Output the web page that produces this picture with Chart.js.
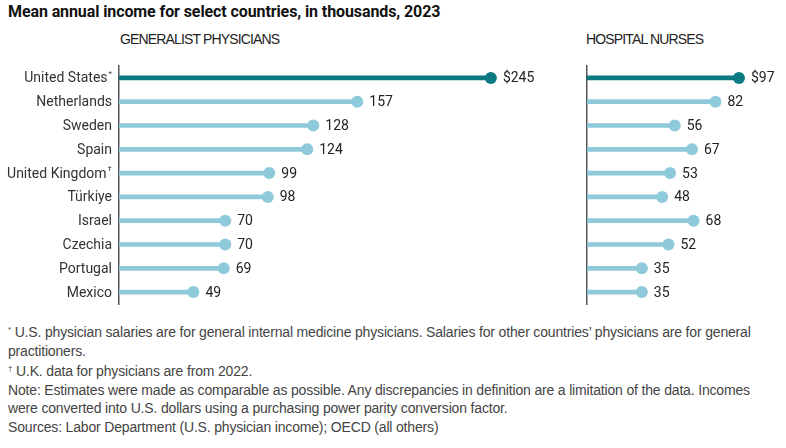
<!DOCTYPE html>
<html>
<head>
<meta charset="utf-8">
<script src="https://cdn.jsdelivr.net/npm/chart.js@4.4.1/dist/chart.umd.min.js"></script>
<style>
  body { margin: 0; background: #fff; width: 786px; height: 448px; position: relative; overflow: hidden; }
  .title { position: absolute; left: 8px; top: 2px; font: bold 16px Roboto, sans-serif; color: #111; white-space: nowrap; letter-spacing: -0.1px; }
  .panel { position: absolute; top: 31px; font: 14px "Liberation Sans", sans-serif; letter-spacing: -0.85px; color: #222; white-space: nowrap; }
  .notes { position: absolute; left: 8px; top: 321px; font: 14px/18.5px "Liberation Sans", sans-serif; letter-spacing: -0.17px; color: #444; white-space: nowrap; }
  .notes sup { font-size: 8px; vertical-align: 5px; }
  canvas { position: absolute; }
</style>
</head>
<body>
<div class="title">Mean annual income for select countries, in thousands, 2023</div>
<div class="panel" style="left:120px">GENERALIST PHYSICIANS</div>
<div class="panel" style="left:586px">HOSPITAL NURSES</div>
<canvas id="physChart" width="560" height="250" style="left:0;top:60px"></canvas>
<canvas id="nurseChart" width="216" height="250" style="left:570px;top:60px"></canvas>
<div class="notes"><sup>*</sup> U.S. physician salaries are for general internal medicine physicians. Salaries for other countries’ physicians are for general<br>practitioners.<br><sup>†</sup> U.K. data for physicians are from 2022.<br>Note: Estimates were made as comparable as possible. Any discrepancies in definition are a limitation of the data. Incomes<br>were converted into U.S. dollars using a purchasing power parity conversion factor.<br>Sources: Labor Department (U.S. physician income); OECD (all others)</div>
<script>
const countries = ['United States', 'Netherlands', 'Sweden', 'Spain', 'United Kingdom', 'Türkiye', 'Israel', 'Czechia', 'Portugal', 'Mexico']
const footMarks = ['*', '', '', '', '†', '', '', '', '', '']
const physicians = [245, 157, 128, 124, 99, 98, 70, 70, 69, 49]
const nurses = [97, 82, 56, 67, 53, 48, 68, 52, 35, 35]

const DARK = '#0b7a83'
const LIGHT = '#8ecad9'
const colorsFor = values => values.map((v, i) => i === 0 ? DARK : LIGHT)

// value labels to the right of each dot, "$" on the first one
const valueLabels = {
    id: 'valueLabels',
    afterDatasetsDraw(chart){
        const {ctx} = chart
        const meta = chart.getDatasetMeta(1)
        const values = chart.data.datasets[1].data
        ctx.save()
        ctx.font = '14px Roboto, sans-serif'
        ctx.fillStyle = '#222'
        ctx.textBaseline = 'middle'
        meta.data.forEach((pt, i) => {
            const txt = (i === 0 ? '$' : '') + values[i].x
            ctx.fillText(txt, pt.x + 12, pt.y + 1)
        })
        ctx.restore()
    }
}

// category names right-aligned against the axis, with footnote marks
const categoryLabels = {
    id: 'categoryLabels',
    afterDraw(chart){
        if(!chart.options.plugins.categoryLabels.show) return
        const {ctx} = chart
        const yScale = chart.scales.y
        const right = chart.chartArea.left - 7
        ctx.save()
        ctx.textBaseline = 'middle'
        ctx.fillStyle = '#333'
        countries.forEach((name, i) => {
            const y = yScale.getPixelForValue(i) + 1
            ctx.font = '8px Roboto, sans-serif'
            const markW = footMarks[i] ? ctx.measureText(footMarks[i]).width + 1 : 0
            if(footMarks[i]){
                ctx.textAlign = 'right'
                ctx.fillText(footMarks[i], right, y - 5)
            }
            ctx.font = '14px Roboto, sans-serif'
            ctx.textAlign = 'right'
            ctx.fillText(name, right - markW, y)
        })
        ctx.restore()
    }
}

function lollipop(canvasId, values, max, padding, showLabels){
    const ctx = document.getElementById(canvasId).getContext('2d')
    return new Chart(ctx, {
        data: {
            labels: countries,
            datasets: [{
                type: 'bar',
                data: values,
                backgroundColor: colorsFor(values),
                barThickness: 4,
                borderWidth: 0
            }, {
                type: 'line',
                data: values.map((v, i) => ({x: v, y: countries[i]})),
                showLine: false,
                pointRadius: 6,
                pointHoverRadius: 6,
                pointBorderWidth: 0,
                pointBackgroundColor: colorsFor(values)
            }]
        },
        options: {
            indexAxis: 'y',
            responsive: false,
            animation: false,
            layout: {padding},
            scales: {
                x: {display: false, min: 0, max},
                y: {
                    grid: {display: false},
                    ticks: {display: false},
                    border: {display: true, color: '#555', width: 1.5},
                    afterFit: scale => { scale.width = 0 }
                }
            },
            plugins: {
                legend: {display: false},
                tooltip: {enabled: false},
                categoryLabels: {show: showLabels}
            }
        },
        plugins: [valueLabels, categoryLabels]
    })
}

lollipop('physChart', physicians, 280, {left: 119, right: 16, top: 6, bottom: 5}, true)
lollipop('nurseChart', nurses, 120, {left: 17, right: 11, top: 6, bottom: 5}, false)
</script>
</body>
</html>
